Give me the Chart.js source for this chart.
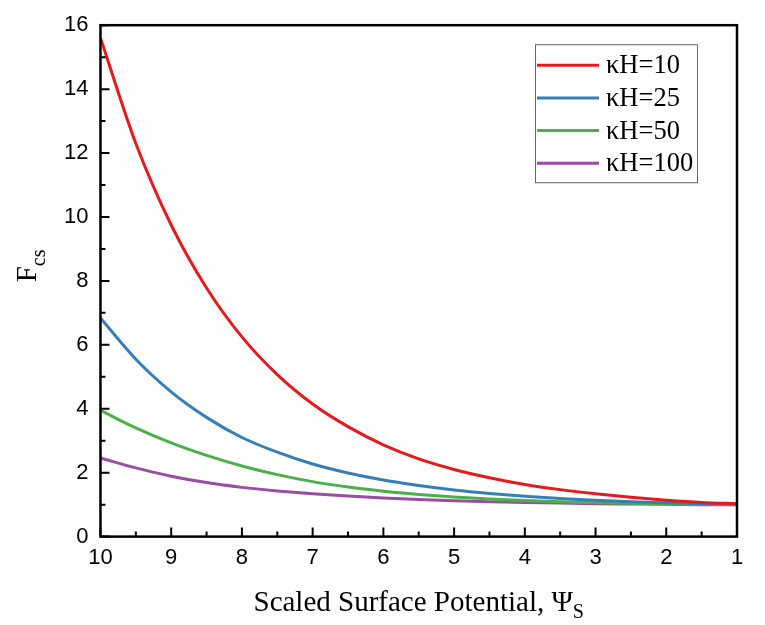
<!DOCTYPE html>
<html>
<head>
    <title>Fcs vs Scaled Surface Potential</title>
    <style>
        body { margin: 0; background: #fff; }
    </style>
</head>
<body>
    <canvas id="grafico" width="765" height="625"></canvas>

    <script src="https://cdn.jsdelivr.net/npm/chart.js"></script>
    <script>
        // Scaled surface potential (x) and Fcs for each kappa*H
        const psi      = [10, 9.5, 9, 8.5, 8, 7.5, 7, 6.5, 6, 5.5, 5, 4.5, 4, 3.5, 3, 2.5, 2, 1.5, 1];
        const fcsKH10  = [15.6, 12.3, 9.75, 7.78, 6.25, 5.07, 4.15, 3.44, 2.87, 2.43, 2.1, 1.84, 1.63, 1.47, 1.34, 1.23, 1.14, 1.07, 1.03];
        const fcsKH25  = [6.84, 5.55, 4.53, 3.73, 3.1, 2.64, 2.27, 1.99, 1.77, 1.6, 1.46, 1.35, 1.26, 1.19, 1.14, 1.09, 1.06, 1.03, 1.01];
        const fcsKH50  = [3.95, 3.4, 2.93, 2.54, 2.21, 1.94, 1.72, 1.55, 1.42, 1.32, 1.24, 1.18, 1.13, 1.09, 1.06, 1.04, 1.02, 1.01, 1.0];
        const fcsKH100 = [2.46, 2.15, 1.89, 1.69, 1.54, 1.43, 1.34, 1.27, 1.21, 1.16, 1.12, 1.09, 1.07, 1.05, 1.03, 1.02, 1.01, 1.0, 1.0];

        const series  = [fcsKH10, fcsKH25, fcsKH50, fcsKH100];
        const nombres = ['κH=10', 'κH=25', 'κH=50', 'κH=100'];
        const colores = ['#E41A1C', '#377EB8', '#4DAF4A', '#984EA3'];

        // Tick positions
        const xTicks = [10, 9, 8, 7, 6, 5, 4, 3, 2, 1];
        const xMinor = [9.5, 8.5, 7.5, 6.5, 5.5, 4.5, 3.5, 2.5, 1.5];
        const yTicks = [0, 2, 4, 6, 8, 10, 12, 14, 16];
        const yMinor = [1, 3, 5, 7, 9, 11, 13, 15];

        const serif = '"Liberation Serif", "Times New Roman", serif';
        const sans = '"Liberation Sans", Arial, sans-serif';

        // Frame, inward ticks, axis titles and legend
        const marcoPlugin = {
            id: 'marco',
            afterDraw(chart) {
                const ctx = chart.ctx;
                const a = chart.chartArea;
                const x = chart.scales.x;
                const y = chart.scales.y;
                ctx.save();

                ctx.strokeStyle = '#000';
                ctx.lineWidth = 2.5;
                ctx.strokeRect(a.left, a.top, a.right - a.left, a.bottom - a.top);

                ctx.lineWidth = 2;
                ctx.beginPath();
                xTicks.forEach(v => { const p = x.getPixelForValue(v); ctx.moveTo(p, a.bottom); ctx.lineTo(p, a.bottom - 9); });
                xMinor.forEach(v => { const p = x.getPixelForValue(v); ctx.moveTo(p, a.bottom); ctx.lineTo(p, a.bottom - 5); });
                yTicks.forEach(v => { const p = y.getPixelForValue(v); ctx.moveTo(a.left, p); ctx.lineTo(a.left + 9, p); });
                yMinor.forEach(v => { const p = y.getPixelForValue(v); ctx.moveTo(a.left, p); ctx.lineTo(a.left + 5, p); });
                ctx.stroke();

                // x title with subscript S
                ctx.fillStyle = '#000';
                ctx.textBaseline = 'alphabetic';
                ctx.textAlign = 'left';
                const main = 'Scaled Surface Potential, Ψ';
                ctx.font = '29px ' + serif;
                const w1 = ctx.measureText(main).width;
                ctx.font = '20px ' + serif;
                const w2 = ctx.measureText('S').width;
                const cx = (a.left + a.right) / 2;
                let sx = cx - (w1 + w2) / 2;
                ctx.font = '29px ' + serif;
                ctx.fillText(main, sx, 611);
                ctx.font = '20px ' + serif;
                ctx.fillText('S', sx + w1, 618);

                // y title F_cs, rotated
                ctx.save();
                ctx.translate(36, (a.top + a.bottom) / 2 - 15);
                ctx.rotate(-Math.PI / 2);
                ctx.font = '29px ' + serif;
                const f1 = ctx.measureText('F').width;
                ctx.font = '20px ' + serif;
                const f2 = ctx.measureText('cs').width;
                let fx = -(f1 + f2) / 2;
                ctx.font = '29px ' + serif;
                ctx.fillText('F', fx, 0);
                ctx.font = '20px ' + serif;
                ctx.fillText('cs', fx + f1, 9);
                ctx.restore();

                // legend box
                const bx = a.right - 202, by = a.top + 19, bw = 162, bh = 138;
                ctx.fillStyle = '#fff';
                ctx.fillRect(bx, by, bw, bh);
                ctx.strokeStyle = '#666';
                ctx.lineWidth = 1;
                ctx.strokeRect(bx + 0.5, by + 0.5, bw, bh);
                chart.data.datasets.forEach((ds, i) => {
                    const ry = by + 21 + i * 32.7;
                    ctx.strokeStyle = ds.borderColor;
                    ctx.lineWidth = 3;
                    ctx.beginPath();
                    ctx.moveTo(bx + 2, ry);
                    ctx.lineTo(bx + 64, ry);
                    ctx.stroke();
                    ctx.fillStyle = '#000';
                    ctx.font = '26.5px ' + serif;
                    ctx.textBaseline = 'middle';
                    ctx.fillText(ds.label, bx + 71, ry + 1);
                });

                ctx.restore();
            }
        };

        const datasets = series.map((vals, i) => ({
            label: nombres[i],
            data: psi.map((p, j) => ({ x: p, y: vals[j] })),
            borderColor: colores[i],
            borderWidth: 3,
            pointRadius: 0,
            fill: false,
            cubicInterpolationMode: 'monotone'
        }));

        const grafico = new Chart(document.getElementById('grafico').getContext('2d'), {
            type: 'line',
            data: { datasets: datasets },
            options: {
                responsive: false,
                animation: false,
                layout: { padding: { top: 21, right: 28, bottom: 46, left: 52 } },
                plugins: {
                    legend: { display: false },
                    tooltip: { enabled: false }
                },
                scales: {
                    x: {
                        type: 'linear',
                        reverse: true,
                        min: 1,
                        max: 10,
                        afterBuildTicks: axis => { axis.ticks = xTicks.map(v => ({ value: v })); },
                        grid: { display: false, drawTicks: false },
                        border: { display: false },
                        ticks: { color: '#000', font: { family: sans, size: 22 }, padding: 8, maxRotation: 0 }
                    },
                    y: {
                        min: 0,
                        max: 16,
                        afterBuildTicks: axis => { axis.ticks = yTicks.map(v => ({ value: v })); },
                        grid: { display: false, drawTicks: false },
                        border: { display: false },
                        ticks: { color: '#000', font: { family: sans, size: 22 }, padding: 12 }
                    }
                }
            },
            plugins: [marcoPlugin]
        });
    </script>
</body>
</html>
